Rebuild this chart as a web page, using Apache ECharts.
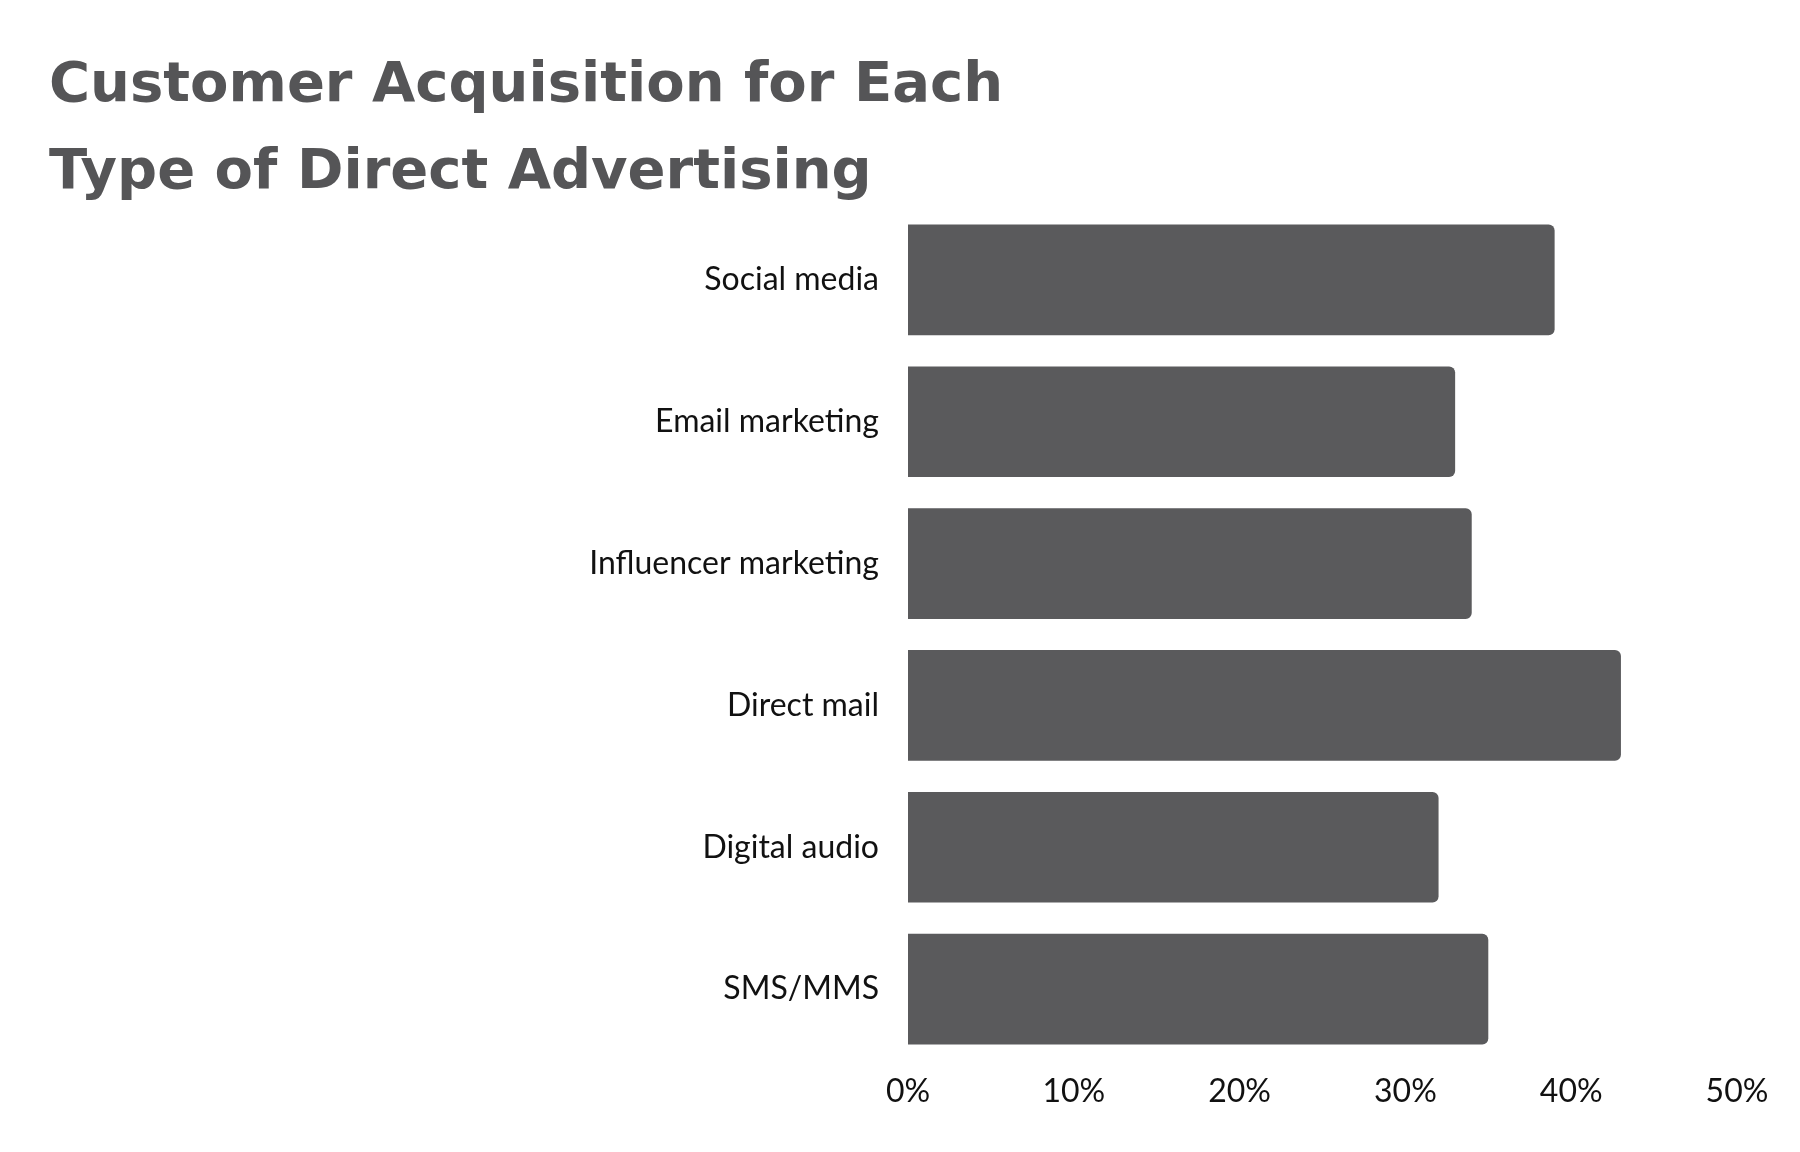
<!DOCTYPE html>
<html><head><meta charset="utf-8">
<script src="https://cdn.jsdelivr.net/npm/echarts@6/dist/echarts.min.js"></script>
<style>html,body{margin:0;padding:0;background:#fff}#c{width:1800px;height:1152px}</style>
</head><body><div id="c"></div>
<script>
const categories = ["Social media","Email marketing","Influencer marketing","Direct mail","Digital audio","SMS/MMS"];
const values = [39,33,34,43,32,35];
const xTicks = [0,10,20,30,40,50];
const chart = echarts.init(document.getElementById('c'));
chart.setOption({
  animation:false,
  backgroundColor:'#fff',
  title:{text:'Customer Acquisition for Each\nType of Direct Advertising',left:44,top:38,
    textStyle:{fontFamily:'DejaVu Sans',fontWeight:'bold',fontSize:56,lineHeight:87,color:'#555557'}},
  grid:{left:908,right:63,top:209,bottom:92,containLabel:false},
  xAxis:{type:'value',min:xTicks[0],max:xTicks[xTicks.length-1],interval:10,
    axisLine:{show:false},axisTick:{show:false},splitLine:{show:false},
    axisLabel:{formatter:'{value}%',fontFamily:'Lato',fontSize:32,color:'#111',margin:16}},
  yAxis:{type:'category',data:categories,inverse:true,
    axisLine:{show:false},axisTick:{show:false},
    axisLabel:{fontFamily:'Lato',fontSize:32,color:'#111',margin:29}},
  series:[{type:'bar',data:values,barCategoryGap:'22%',
    itemStyle:{color:'#5a5a5c',borderRadius:[0,6,6,0]}}]
});
</script></body></html>
